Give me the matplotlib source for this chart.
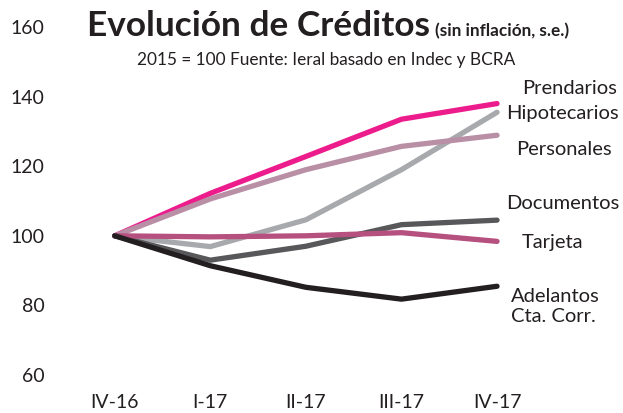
import matplotlib.pyplot as plt

plt.rcParams['font.family'] = ['Lato', 'DejaVu Sans']

trimestres = ['IV-16', 'I-17', 'II-17', 'III-17', 'IV-17']

prendarios = [100, 112.2, 122.8, 133.5, 138.0]
hipotecarios = [100, 96.9, 104.6, 119.0, 135.5]
personales = [100, 110.6, 119.0, 125.7, 128.9]
documentos = [100, 93.0, 97.0, 103.2, 104.5]
tarjeta = [100, 99.7, 100.0, 100.9, 98.4]
adelantos = [100, 91.4, 85.2, 81.8, 85.5]

series = [
    ('Prendarios', prendarios, '#ec1c8c'),
    ('Hipotecarios', hipotecarios, '#a7a9ac'),
    ('Personales', personales, '#b98fa6'),
    ('Documentos', documentos, '#58585a'),
    ('Tarjeta', tarjeta, '#b5507f'),
    ('Adelantos\nCta. Corr.', adelantos, '#231f20'),
]

# posicion de las etiquetas a la derecha (x en indice, y en valor)
etiquetas_x = [4.26, 4.1, 4.2, 4.1, 4.26, 4.15]
etiquetas_y = [142.4, 135.2, 124.9, 109.3, 98.1, 79.7]

fig = plt.figure(figsize=(6.23, 4.13), dpi=100)
ax = fig.add_axes([0.1075, 0.092, 0.767, 0.8426])

x = range(len(trimestres))
for (nombre, valores, color), lx, ly in zip(series, etiquetas_x, etiquetas_y):
    ax.plot(x, valores, color=color, linewidth=3.8, solid_capstyle='round',
            solid_joinstyle='round')
    ax.text(lx, ly, nombre, fontsize=14.5, color='#231f20', va='center',
            ha='left', clip_on=False, linespacing=1.2)

ax.set_xlim(-0.5, 4.5)
ax.set_ylim(60, 160)
ax.set_yticks([60, 80, 100, 120, 140, 160])
ax.set_xticks(list(x))
ax.set_xticklabels(trimestres)
ax.tick_params(axis='both', length=0, labelsize=14, colors='#231f20')
ax.tick_params(axis='x', pad=13.5)
ax.tick_params(axis='y', pad=16)
for s in ax.spines.values():
    s.set_visible(False)
ax.patch.set_alpha(0)

fig.text(0.139, 0.9128, 'Evolución de Créditos', fontsize=25.4, fontweight='bold',
         color='#231f20', va='baseline')
fig.text(0.698, 0.9128, '(sin inflación, s.e.)', fontsize=12.3, fontweight='bold',
         color='#231f20', va='baseline')
fig.text(0.22, 0.8426, '2015 = 100 Fuente: Ieral basado en Indec y BCRA',
         fontsize=12.4, color='#231f20', va='baseline', ha='left')

fig.savefig('out.png', dpi=100)
